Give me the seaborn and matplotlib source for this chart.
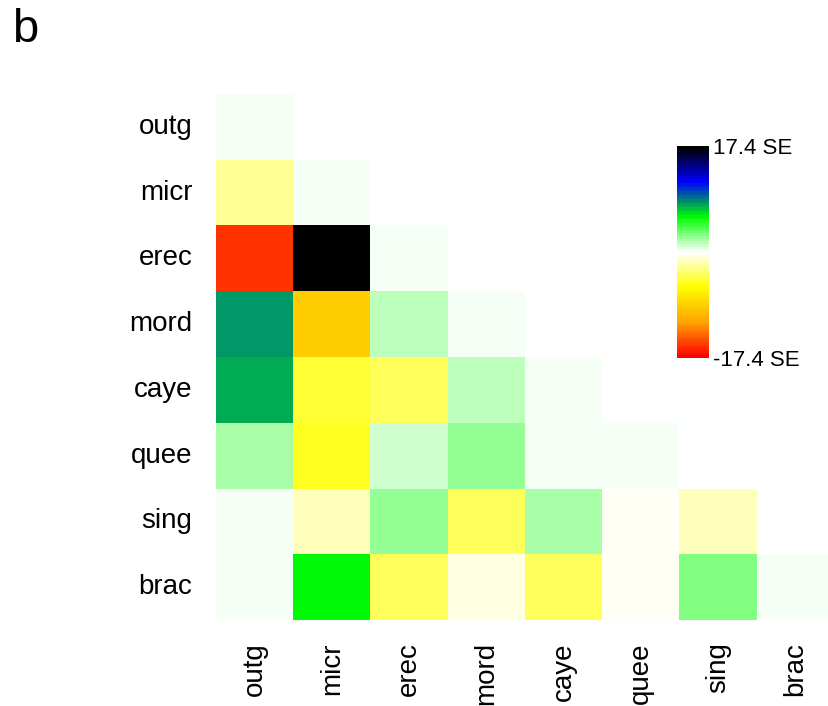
import numpy as np
import pandas as pd
import matplotlib
matplotlib.use("Agg")
import matplotlib.pyplot as plt
from matplotlib.colors import ListedColormap, to_rgb
import seaborn as sns

# Populations, in plotting order
pops = ["outg", "micr", "erec", "mord", "caye", "quee", "sing", "brac"]

# Lower triangle (incl. diagonal) of standardized residuals, row by row
resid_outg = [0.1]
resid_micr = [-2.3, 0.1]
resid_erec = [-15.6, 17.4, 0.1]
resid_mord = [8.1, -9.1, 1.55, 0.1]
resid_caye = [7.7, -4.6, -3.5, 1.55, 0.1]
resid_quee = [1.9, -5.1, 1.16, 2.3, 0.2, 0.1]
resid_sing = [0.2, -1.45, 2.3, -3.9, 1.9, -0.24, -1.45]
resid_brac = [0.2, 5.8, -3.5, -0.77, -3.9, -0.24, 2.9, 0.1]

max_se = 17.4
bar_labels = [f"{max_se} SE", f"-{max_se} SE"]

rows = [resid_outg, resid_micr, resid_erec, resid_mord,
        resid_caye, resid_quee, resid_sing, resid_brac]
n = len(pops)
mat = np.full((n, n), np.nan)
for i, r in enumerate(rows):
    mat[i, :len(r)] = r
df = pd.DataFrame(mat, index=pops, columns=pops)
mask = np.triu(np.ones((n, n), dtype=bool), k=1)

# 80-step ramp red -> orange -> yellow -> white -> green -> blue -> black
anchors = ["#FF0000", "#FFA500", "#FFFF00", "#FFFFFF", "#00FF00", "#0000FF", "#000000"]
anc = np.array([to_rgb(c) for c in anchors])
pos = np.linspace(0, 1, len(anchors))
tt = np.linspace(0, 1, 80)
ramp = np.column_stack([np.interp(tt, pos, anc[:, k]) for k in range(3)])
cmap = ListedColormap(ramp)

sns.set_style("white")
plt.rcParams["font.family"] = ["Liberation Sans", "DejaVu Sans"]
plt.rcParams["text.color"] = "black"
plt.rcParams["xtick.color"] = "black"
plt.rcParams["ytick.color"] = "black"
plt.rcParams["xtick.labelcolor"] = "black"
plt.rcParams["ytick.labelcolor"] = "black"

W, H = 829, 706
fig = plt.figure(figsize=(W / 100, H / 100), dpi=100)
ax = fig.add_axes([216 / W, 86 / H, 618 / W, 526 / H])
sns.heatmap(df, mask=mask, cmap=cmap, vmin=-max_se, vmax=max_se,
            cbar=False, ax=ax, linewidths=0, square=False)
for s in ax.spines.values():
    s.set_visible(False)
ax.tick_params(axis="both", length=0, labelsize=20, labelcolor="black")
ax.tick_params(axis="y", pad=17)
ax.tick_params(axis="x", pad=16)
ax.set_yticklabels(pops, rotation=0, ha="right", va="center")
ax.set_xticklabels(pops, rotation=90, ha="center", va="top")
ax.set_xlabel("")
ax.set_ylabel("")

# Color bar
cax = fig.add_axes([677 / W, (H - 358) / H, 32 / W, 212 / H])
grad = np.linspace(-max_se, max_se, 80).reshape(-1, 1)
cax.imshow(grad, cmap=cmap, vmin=-max_se, vmax=max_se, aspect="auto",
           origin="lower", interpolation="nearest")
cax.set_axis_off()
fig.text(713 / W, 1 - 148 / H, bar_labels[0], fontsize=16, ha="left",
         va="center", color="black")
fig.text(713 / W, 1 - 360 / H, bar_labels[1], fontsize=16, ha="left",
         va="center", color="black")

fig.text(12 / W, 1 - 30 / H, "b", fontsize=34, ha="left", va="center",
         color="black")

fig.savefig("out.png", dpi=100)
